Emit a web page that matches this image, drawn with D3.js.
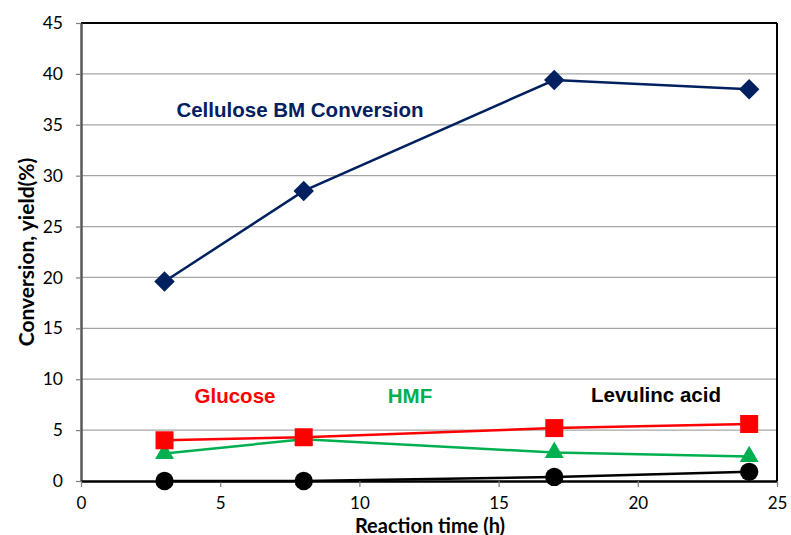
<!DOCTYPE html>
<html><head><meta charset="utf-8">
<script src="https://cdn.jsdelivr.net/npm/d3@7/dist/d3.min.js"></script>
<style>
body{margin:0;background:#fff;}
svg{display:block;}
</style></head>
<body>
<svg id="chart" width="791" height="535"></svg>
<script>
const times = [3, 8, 17, 24];
const conversion = [19.6, 28.5, 39.4, 38.5];
const glucose = [4.0, 4.3, 5.2, 5.6];
const hmf = [2.7, 4.1, 2.8, 2.4];
const levulinic = [0.0, 0.0, 0.4, 0.9];
const xTicks = [0, 5, 10, 15, 20, 25];
const yTicks = [0, 5, 10, 15, 20, 25, 30, 35, 40, 45];

const svg = d3.select("#chart");
const m = {left: 81, top: 23, right: 777, bottom: 481};
const x = d3.scaleLinear().domain([0, 25]).range([m.left, m.right]);
const y = d3.scaleLinear().domain([0, 45]).range([m.bottom, m.top]);

// gridlines
svg.append("g").selectAll("line").data(yTicks.filter(d => d > 0 && d < 45)).join("line")
  .attr("x1", m.left).attr("x2", m.right)
  .attr("y1", d => y(d)).attr("y2", d => y(d))
  .attr("stroke", "#a6a6a6").attr("stroke-width", 1.2);

// frame top and right
svg.append("line").attr("x1", m.left).attr("x2", m.right).attr("y1", m.top).attr("y2", m.top)
  .attr("stroke", "#000").attr("stroke-width", 2);
svg.append("line").attr("x1", m.right).attr("x2", m.right).attr("y1", m.top).attr("y2", m.bottom)
  .attr("stroke", "#000").attr("stroke-width", 2);

const tickFont = "Lato, 'Open Sans', sans-serif";
// y axis
const yAxis = svg.append("g").attr("transform", `translate(${m.left},0)`)
  .call(d3.axisLeft(y).tickValues(yTicks).tickSize(5).tickPadding(13).tickSizeOuter(0));
yAxis.select(".domain").attr("stroke", "#595959").attr("stroke-width", 2.5);
yAxis.selectAll(".tick line").attr("stroke", "#7f7f7f").attr("stroke-width", 1.2);
yAxis.selectAll("text").attr("font-family", tickFont).attr("font-size", 17.5).attr("fill", "#000");

// x axis
const xAxis = svg.append("g").attr("transform", `translate(0,${m.bottom})`)
  .call(d3.axisBottom(x).tickValues(xTicks).tickSize(6).tickPadding(10).tickSizeOuter(0));
xAxis.select(".domain").attr("stroke", "#000").attr("stroke-width", 2.5);
xAxis.selectAll(".tick line").attr("stroke", "#7f7f7f").attr("stroke-width", 1.2);
xAxis.selectAll("text").attr("font-family", tickFont).attr("font-size", 17).attr("fill", "#000");

// axis titles
const titleFont = "Lato, 'Open Sans', sans-serif";
svg.append("text").attr("x", 430).attr("y", 532.5).attr("text-anchor", "middle")
  .attr("font-family", titleFont).attr("font-weight", "bold").attr("font-size", 20)
  .text("Reaction time (h)");
svg.append("text").attr("transform", "translate(34,252) rotate(-90)").attr("text-anchor", "middle")
  .attr("font-family", titleFont).attr("font-weight", "bold").attr("font-size", 21)
  .text("Conversion, yield(%)");

const line = d3.line().x(d => x(d[0])).y(d => y(d[1]));
function series(vals, color, symbol, size, width) {
  const pts = times.map((t, i) => [t, vals[i]]);
  svg.append("path").datum(pts).attr("d", line).attr("fill", "none")
    .attr("stroke", color).attr("stroke-width", width);
  svg.append("g").selectAll("path").data(pts).join("path")
    .attr("transform", d => `translate(${x(d[0])},${y(d[1])})`)
    .attr("d", d3.symbol().type(symbol).size(size)).attr("fill", color);
}
series(levulinic, "#000000", d3.symbolCircle, 265, 2.5);
series(hmf, "#00b050", d3.symbolTriangle, 155, 2.5);
series(glucose, "#ff0000", d3.symbolSquare, 324, 2.5);
// diamond
const diamond = {draw(ctx, size){const r=Math.sqrt(size/2);ctx.moveTo(0,-r);ctx.lineTo(r,0);ctx.lineTo(0,r);ctx.lineTo(-r,0);ctx.closePath();}};
series(conversion, "#002060", diamond, 210, 2.5);

// series labels
const lblFont = "'Liberation Sans', Arial, sans-serif";
function label(txt, cx, cy, color) {
  svg.append("text").attr("x", cx).attr("y", cy).attr("text-anchor", "middle")
    .attr("font-family", lblFont).attr("font-weight", "bold").attr("font-size", 20.5)
    .attr("fill", color).text(txt);
}
label("Cellulose BM Conversion", 300, 117, "#002060");
label("Glucose", 235, 403, "#ff0000");
label("HMF", 410, 403, "#00b050");
label("Levulinc acid", 656, 402, "#000000");
</script>
</body></html>
